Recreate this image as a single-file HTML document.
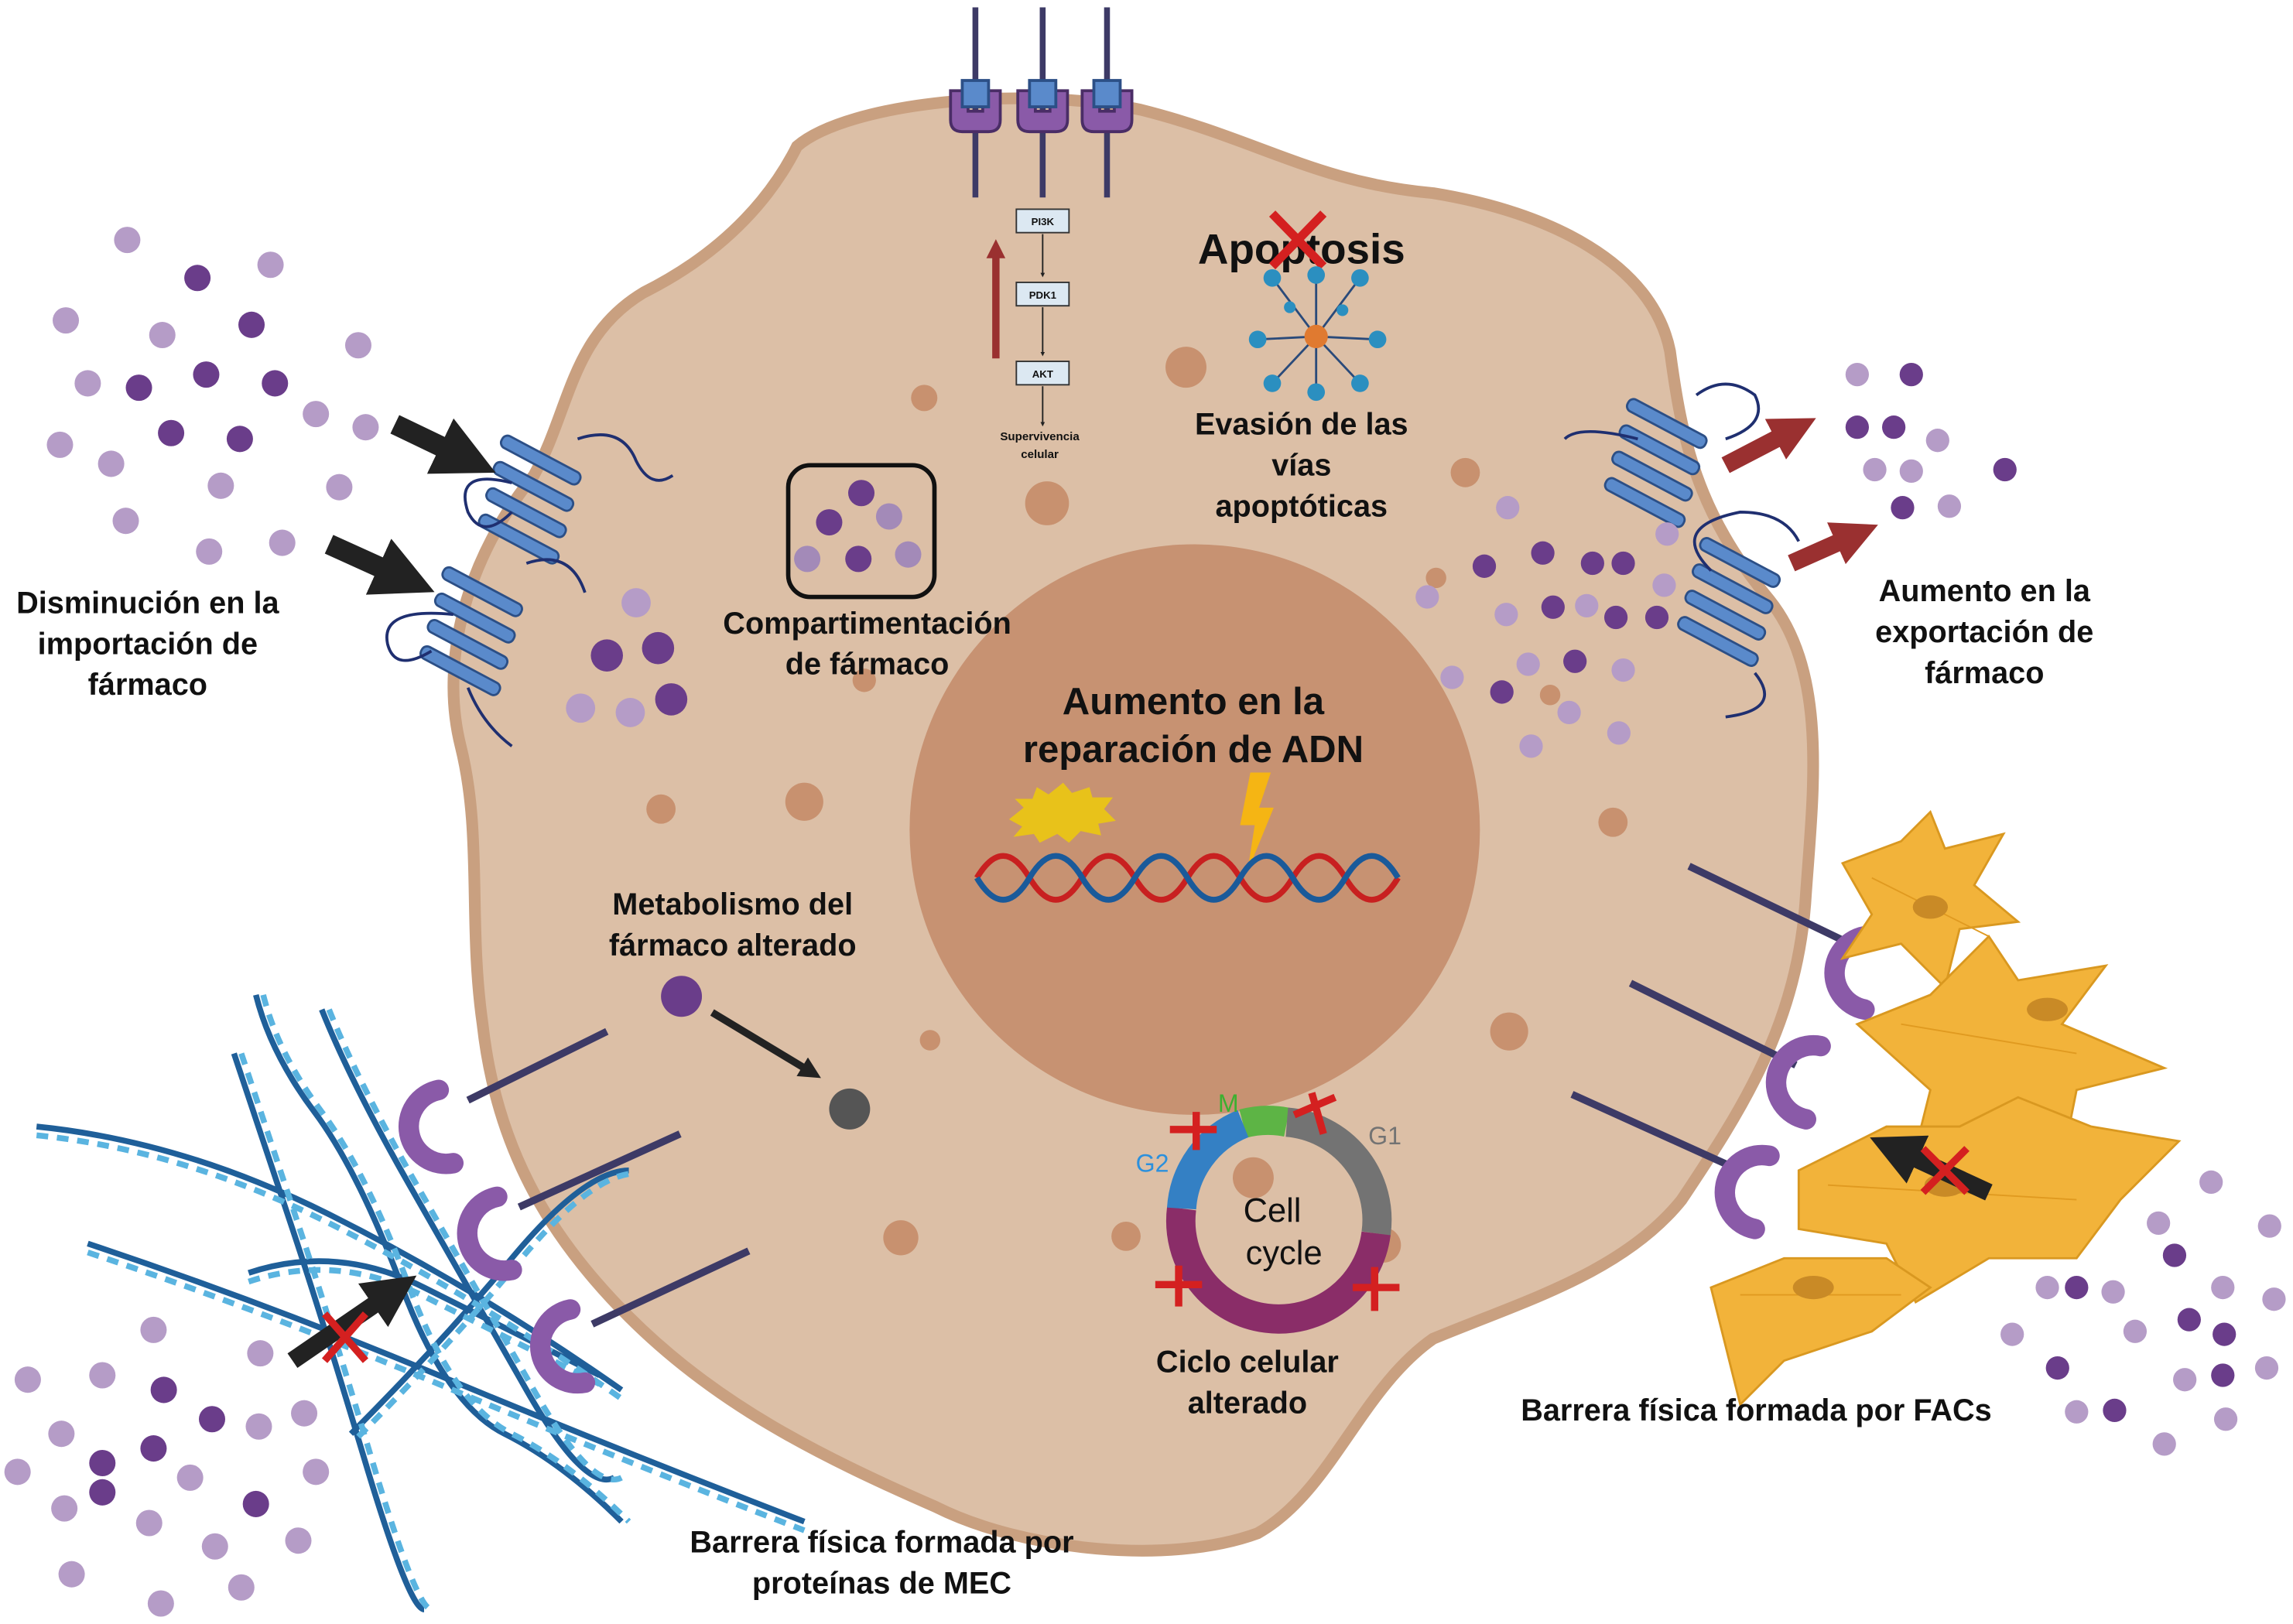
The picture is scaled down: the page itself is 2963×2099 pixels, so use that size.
<!DOCTYPE html>
<html><head><meta charset="utf-8"><style>
html,body{margin:0;padding:0;background:#fff;}
svg{display:block}
text{font-family:"Liberation Sans",sans-serif;font-weight:bold;fill:#111;text-anchor:middle}
</style></head><body>
<svg width="2963" height="2099" viewBox="0 0 1568 1110" preserveAspectRatio="none" xmlns="http://www.w3.org/2000/svg">
<defs>
<marker id="ab" viewBox="0 0 10 10" refX="5" refY="5" markerWidth="3" markerHeight="3" orient="auto"><path d="M0,0L10,5L0,10z" fill="#222"/></marker>
<marker id="ar" viewBox="0 0 10 10" refX="5" refY="5" markerWidth="2.6" markerHeight="2.6" orient="auto"><path d="M0,0L10,5L0,10z" fill="#9a3030"/></marker>
</defs>
<path d="M545,100 C580,70 700,58 780,75 C860,95 900,125 980,132 C1060,145 1130,180 1142,240 C1150,300 1160,350 1210,410 C1250,460 1240,540 1235,610 C1230,700 1190,760 1150,820 C1110,870 1040,890 980,915 C930,950 910,1020 860,1048 C800,1070 700,1060 640,1030 C560,995 490,960 430,900 C380,850 340,790 330,700 C320,630 330,570 315,510 C300,450 320,380 365,325 C390,280 390,230 440,200 C500,170 530,130 545,100 Z" fill="#dcbfa6" stroke="#c9a080" stroke-width="8"/>
<g fill="#c8916f">
<circle cx="811" cy="251" r="14"/><circle cx="716" cy="344" r="15"/><circle cx="632" cy="272" r="9"/><circle cx="1002" cy="323" r="10"/><circle cx="550" cy="548" r="13"/><circle cx="452" cy="553" r="10"/><circle cx="591" cy="465" r="8"/><circle cx="1103" cy="562" r="10"/><circle cx="1032" cy="705" r="13"/><circle cx="636" cy="711" r="7"/><circle cx="616" cy="846" r="12"/><circle cx="770" cy="845" r="10"/><circle cx="857" cy="805" r="14"/><circle cx="946" cy="851" r="12"/><circle cx="982" cy="395" r="7"/><circle cx="1060" cy="475" r="7"/></g>
<circle cx="817" cy="567" r="195" fill="#c79272"/>
<g stroke="#3d3a66" stroke-width="4"><line x1="667" y1="5" x2="667" y2="135"/><line x1="713" y1="5" x2="713" y2="135"/><line x1="757" y1="5" x2="757" y2="135"/></g>
<g fill="#8a5aa8" stroke="#4a2d66" stroke-width="2">
<path d="M650,62 h12 v14 h10 v-14 h12 v20 q0,8 -8,8 h-18 q-8,0 -8,-8z"/>
<path d="M696,62 h12 v14 h10 v-14 h12 v20 q0,8 -8,8 h-18 q-8,0 -8,-8z"/>
<path d="M740,62 h12 v14 h10 v-14 h12 v20 q0,8 -8,8 h-18 q-8,0 -8,-8z"/></g>
<g fill="#5a8acb" stroke="#2c4f86" stroke-width="2"><rect x="658" y="55" width="18" height="18"/><rect x="704" y="55" width="18" height="18"/><rect x="748" y="55" width="18" height="18"/></g>
<line x1="681" y1="245" x2="681" y2="170" stroke="#9a3030" stroke-width="5" marker-end="url(#ar)"/>
<g fill="#dce8f2" stroke="#333" stroke-width="1"><rect x="695" y="143" width="36" height="16"/><rect x="695" y="193" width="36" height="16"/><rect x="695" y="247" width="36" height="16"/></g>
<g style="font-size:7px;font-weight:normal"><text x="713" y="154">PI3K</text><text x="713" y="204">PDK1</text><text x="713" y="258">AKT</text></g>
<g stroke="#222" stroke-width="1"><line x1="713" y1="160" x2="713" y2="188" marker-end="url(#ab)"/><line x1="713" y1="210" x2="713" y2="242" marker-end="url(#ab)"/><line x1="713" y1="264" x2="713" y2="290" marker-end="url(#ab)"/></g>
<text x="711" y="301" style="font-size:8px">Supervivencia</text><text x="711" y="313" style="font-size:8px">celular</text>
<text x="890" y="180" style="font-size:29px">Apoptosis</text>
<g stroke="#d42020" stroke-width="6"><line x1="870" y1="146" x2="905" y2="182"/><line x1="905" y1="146" x2="870" y2="182"/></g>
<g stroke="#2a4a7a" stroke-width="1.5"><line x1="900" y1="230" x2="870" y2="190"/><line x1="900" y1="230" x2="930" y2="190"/><line x1="900" y1="230" x2="860" y2="232"/><line x1="900" y1="230" x2="942" y2="232"/><line x1="900" y1="230" x2="870" y2="262"/><line x1="900" y1="230" x2="930" y2="262"/><line x1="900" y1="230" x2="900" y2="188"/><line x1="900" y1="230" x2="900" y2="268"/></g>
<g fill="#2b8fc0"><circle cx="870" cy="190" r="6"/><circle cx="930" cy="190" r="6"/><circle cx="860" cy="232" r="6"/><circle cx="942" cy="232" r="6"/><circle cx="870" cy="262" r="6"/><circle cx="930" cy="262" r="6"/><circle cx="900" cy="188" r="6"/><circle cx="900" cy="268" r="6"/><circle cx="882" cy="210" r="4"/><circle cx="918" cy="212" r="4"/></g>
<circle cx="900" cy="230" r="8" fill="#e07a30"/>
<text x="890" y="297" style="font-size:21px">Evasión de las</text><text x="890" y="325" style="font-size:21px">vías</text><text x="890" y="353" style="font-size:21px">apoptóticas</text>
<rect x="539" y="318" width="100" height="90" rx="15" fill="none" stroke="#111" stroke-width="3"/>
<g fill="#6a3d8a"><circle cx="589" cy="337" r="9"/><circle cx="567" cy="357" r="9"/><circle cx="587" cy="382" r="9"/></g>
<g fill="#a38ab8"><circle cx="608" cy="353" r="9"/><circle cx="552" cy="382" r="9"/><circle cx="621" cy="379" r="9"/></g>
<text x="593" y="433" style="font-size:21px">Compartimentación</text><text x="593" y="461" style="font-size:21px">de fármaco</text>
<text x="816" y="488" style="font-size:26px">Aumento en la</text><text x="816" y="521" style="font-size:26px">reparación de ADN</text>
<path d="M690,560 l10,-8 l-6,-6 l12,0 l3,-8 l8,5 l10,-8 l6,7 l12,-4 l2,7 l14,0 l-6,8 l8,8 l-12,2 l2,8 l-14,-3 l-8,8 l-8,-6 l-12,6 l-4,-6 l-14,2 l6,-7z" fill="#e8c21a"/>
<path d="M855,528 l14,0 l-8,24 l10,0 l-18,44 l5,-32 l-10,0z" fill="#f5b514"/>
<path d="M668,600 q18,-30 36,0 t36,0 t36,0 t36,0 t36,0 t36,0 t36,0 t36,0" fill="none" stroke="#c82020" stroke-width="4"/>
<path d="M668,600 q18,30 36,0 t36,0 t36,0 t36,0 t36,0 t36,0 t36,0 t36,0" fill="none" stroke="#1a5a9a" stroke-width="4"/>
<g fill="none" stroke-width="20">
<path d="M850,768 A67,67 0 0 1 880,767" stroke="#5db445"/>
<path d="M880,767 A67,67 0 0 1 941,843" stroke="#737373"/>
<path d="M941,843 A67,67 0 1 1 808,826" stroke="#8a2d68"/>
<path d="M808,826 A67,67 0 0 1 850,768" stroke="#3480c4"/></g>
<text x="870" y="835" style="font-size:23px;font-weight:normal">Cell</text><text x="878" y="864" style="font-size:23px;font-weight:normal">cycle</text>
<text x="840" y="760" style="font-size:17px;font-weight:normal;fill:#3cb030">M</text>
<text x="947" y="782" style="font-size:17px;font-weight:normal;fill:#737373">G1</text>
<text x="788" y="801" style="font-size:17px;font-weight:normal;fill:#2b90dd">G2</text>
<g stroke="#d42020" stroke-width="5"><path d="M800,772h32M818,760v26"/><path d="M885,762l28,-12M897,747l8,28"/><path d="M790,878h32M806,865v28"/><path d="M925,880h32M940,866v30"/></g>
<text x="853" y="938" style="font-size:21px">Ciclo celular</text><text x="853" y="966" style="font-size:21px">alterado</text>
<text x="501" y="625" style="font-size:21px">Metabolismo del</text><text x="501" y="653" style="font-size:21px">fármaco alterado</text>
<circle cx="466" cy="681" r="14" fill="#6a3d8a"/>
<line x1="487" y1="692" x2="555" y2="733" stroke="#222" stroke-width="5" marker-end="url(#ab)"/>
<circle cx="581" cy="758" r="14" fill="#555"/>
<g fill="#5a8acb" stroke="#2c4f86" stroke-width="1.5">
<rect x="340" y="310" width="60" height="9" rx="4" transform="rotate(28 370 314)"/><rect x="335" y="328" width="60" height="9" rx="4" transform="rotate(28 365 332)"/><rect x="330" y="346" width="60" height="9" rx="4" transform="rotate(28 360 350)"/><rect x="325" y="364" width="60" height="9" rx="4" transform="rotate(28 355 368)"/>
<rect x="300" y="400" width="60" height="9" rx="4" transform="rotate(28 330 404)"/><rect x="295" y="418" width="60" height="9" rx="4" transform="rotate(28 325 422)"/><rect x="290" y="436" width="60" height="9" rx="4" transform="rotate(28 320 440)"/><rect x="285" y="454" width="60" height="9" rx="4" transform="rotate(28 315 458)"/>
<rect x="1110" y="285" width="60" height="9" rx="4" transform="rotate(28 1140 289)"/><rect x="1105" y="303" width="60" height="9" rx="4" transform="rotate(28 1135 307)"/><rect x="1100" y="321" width="60" height="9" rx="4" transform="rotate(28 1130 325)"/><rect x="1095" y="339" width="60" height="9" rx="4" transform="rotate(28 1125 343)"/>
<rect x="1160" y="380" width="60" height="9" rx="4" transform="rotate(28 1190 384)"/><rect x="1155" y="398" width="60" height="9" rx="4" transform="rotate(28 1185 402)"/><rect x="1150" y="416" width="60" height="9" rx="4" transform="rotate(28 1180 420)"/><rect x="1145" y="434" width="60" height="9" rx="4" transform="rotate(28 1175 438)"/></g>
<g fill="none" stroke="#1f2f70" stroke-width="2"><path d="M350,330 q-40,-10 -30,20 q10,20 30,0"/><path d="M395,300 q30,-10 40,15 q10,20 25,10"/><path d="M310,420 q-50,-5 -45,20 q5,20 30,5"/><path d="M360,385 q30,-10 40,20"/><path d="M320,470 q10,25 30,40"/><path d="M1120,300 q-40,-10 -50,0"/><path d="M1160,270 q20,-15 40,0 q10,20 -20,30"/><path d="M1170,390 q-30,-30 20,-40 q30,0 40,20"/><path d="M1200,460 q20,25 -20,30"/></g>
<g stroke="#222" stroke-width="14"><line x1="270" y1="290" x2="320" y2="314" marker-end="url(#ab)"/><line x1="225" y1="372" x2="278" y2="396" marker-end="url(#ab)"/></g>
<g stroke="#9a3030" stroke-width="12"><line x1="1180" y1="318" x2="1228" y2="293" marker-end="url(#ar)"/><line x1="1225" y1="385" x2="1270" y2="365" marker-end="url(#ar)"/></g>
<g fill="#b59cc7"><circle cx="87" cy="164" r="9"/><circle cx="185" cy="181" r="9"/><circle cx="45" cy="219" r="9"/><circle cx="245" cy="236" r="9"/><circle cx="111" cy="229" r="9"/><circle cx="60" cy="262" r="9"/><circle cx="216" cy="283" r="9"/><circle cx="250" cy="292" r="9"/><circle cx="41" cy="304" r="9"/><circle cx="76" cy="317" r="9"/><circle cx="232" cy="333" r="9"/><circle cx="86" cy="356" r="9"/><circle cx="143" cy="377" r="9"/><circle cx="193" cy="371" r="9"/><circle cx="151" cy="332" r="9"/><circle cx="435" cy="412" r="10"/><circle cx="397" cy="484" r="10"/><circle cx="431" cy="487" r="10"/>
<circle cx="1270" cy="256" r="8"/><circle cx="1325" cy="301" r="8"/><circle cx="1282" cy="321" r="8"/><circle cx="1307" cy="322" r="8"/><circle cx="1333" cy="346" r="8"/><circle cx="1031" cy="347" r="8"/><circle cx="976" cy="408" r="8"/><circle cx="1030" cy="420" r="8"/><circle cx="1085" cy="414" r="8"/><circle cx="1138" cy="400" r="8"/><circle cx="993" cy="463" r="8"/><circle cx="1045" cy="454" r="8"/><circle cx="1110" cy="458" r="8"/><circle cx="1073" cy="487" r="8"/><circle cx="1047" cy="510" r="8"/><circle cx="1107" cy="501" r="8"/><circle cx="1140" cy="365" r="8"/>
<circle cx="105" cy="909" r="9"/><circle cx="178" cy="925" r="9"/><circle cx="19" cy="943" r="9"/><circle cx="70" cy="940" r="9"/><circle cx="208" cy="966" r="9"/><circle cx="42" cy="980" r="9"/><circle cx="177" cy="975" r="9"/><circle cx="12" cy="1006" r="9"/><circle cx="130" cy="1010" r="9"/><circle cx="216" cy="1006" r="9"/><circle cx="44" cy="1031" r="9"/><circle cx="102" cy="1041" r="9"/><circle cx="204" cy="1053" r="9"/><circle cx="49" cy="1076" r="9"/><circle cx="110" cy="1096" r="9"/><circle cx="165" cy="1085" r="9"/><circle cx="147" cy="1057" r="9"/>
<circle cx="1444" cy="802" r="8"/><circle cx="1512" cy="808" r="8"/><circle cx="1476" cy="836" r="8"/><circle cx="1552" cy="838" r="8"/><circle cx="1400" cy="880" r="8"/><circle cx="1445" cy="883" r="8"/><circle cx="1520" cy="880" r="8"/><circle cx="1555" cy="888" r="8"/><circle cx="1376" cy="912" r="8"/><circle cx="1460" cy="910" r="8"/><circle cx="1494" cy="943" r="8"/><circle cx="1550" cy="935" r="8"/><circle cx="1420" cy="965" r="8"/><circle cx="1480" cy="987" r="8"/><circle cx="1522" cy="970" r="8"/></g>
<g fill="#6a3d8a"><circle cx="135" cy="190" r="9"/><circle cx="172" cy="222" r="9"/><circle cx="141" cy="256" r="9"/><circle cx="188" cy="262" r="9"/><circle cx="95" cy="265" r="9"/><circle cx="117" cy="296" r="9"/><circle cx="164" cy="300" r="9"/><circle cx="415" cy="448" r="11"/><circle cx="450" cy="443" r="11"/><circle cx="459" cy="478" r="11"/>
<circle cx="1307" cy="256" r="8"/><circle cx="1270" cy="292" r="8"/><circle cx="1295" cy="292" r="8"/><circle cx="1371" cy="321" r="8"/><circle cx="1301" cy="347" r="8"/><circle cx="1015" cy="387" r="8"/><circle cx="1055" cy="378" r="8"/><circle cx="1089" cy="385" r="8"/><circle cx="1110" cy="385" r="8"/><circle cx="1062" cy="415" r="8"/><circle cx="1105" cy="422" r="8"/><circle cx="1133" cy="422" r="8"/><circle cx="1077" cy="452" r="8"/><circle cx="1027" cy="473" r="8"/>
<circle cx="112" cy="950" r="9"/><circle cx="145" cy="970" r="9"/><circle cx="105" cy="990" r="9"/><circle cx="70" cy="1000" r="9"/><circle cx="175" cy="1028" r="9"/><circle cx="70" cy="1020" r="9"/>
<circle cx="1422" cy="838" r="8"/><circle cx="1487" cy="858" r="8"/><circle cx="1420" cy="880" r="8"/><circle cx="1497" cy="902" r="8"/><circle cx="1521" cy="912" r="8"/><circle cx="1407" cy="935" r="8"/><circle cx="1446" cy="964" r="8"/><circle cx="1520" cy="940" r="8"/></g>
<!-- ECM fibers: twisted two-tone -->
<g fill="none" stroke-width="4">
<g stroke="#1f5f99">
<path d="M175,680 q10,40 40,80 t60,120 t70,100 t80,60"/><path d="M160,720 q20,60 40,120 t50,160 t40,100"/><path d="M220,690 q20,50 60,120 t80,140 t60,60"/><path d="M25,770 q100,10 200,60 t200,120"/><path d="M60,850 q120,40 240,90 t250,100"/><path d="M170,870 q60,-20 120,10 t120,60"/><path d="M240,980 q60,-60 110,-120 t80,-60"/></g>
<g stroke="#5ab4e0" stroke-dasharray="8 6">
<path d="M180,680 q10,40 40,80 t60,120 t70,100 t80,60"/><path d="M165,720 q20,60 40,120 t50,160 t40,100"/><path d="M225,690 q20,50 60,120 t80,140 t60,60"/><path d="M25,776 q100,10 200,60 t200,120"/><path d="M60,856 q120,40 240,90 t250,100"/><path d="M170,876 q60,-20 120,10 t120,60"/><path d="M245,982 q60,-60 110,-120 t80,-60"/></g></g>
<line x1="200" y1="930" x2="270" y2="882" stroke="#222" stroke-width="12" marker-end="url(#ab)"/>
<g stroke="#d42020" stroke-width="5"><line x1="222" y1="898" x2="250" y2="930"/><line x1="250" y1="898" x2="222" y2="930"/></g>
<g stroke="#3d3a66" stroke-width="5"><line x1="415" y1="705" x2="320" y2="752"/><line x1="465" y1="775" x2="355" y2="825"/><line x1="512" y1="855" x2="405" y2="905"/><line x1="1155" y1="592" x2="1265" y2="645"/><line x1="1115" y1="672" x2="1228" y2="728"/><line x1="1075" y1="748" x2="1190" y2="800"/></g>
<g fill="none" stroke="#8a5aa8" stroke-width="14" stroke-linecap="round"><path d="M300,745 a25,25 0 1 0 10,50"/><path d="M340,818 a25,25 0 1 0 10,50"/><path d="M390,895 a25,25 0 1 0 10,50"/><path d="M1285,640 a25,25 0 1 0 -10,50"/><path d="M1245,715 a25,25 0 1 0 -10,50"/><path d="M1210,790 a25,25 0 1 0 -10,50"/></g>
<g fill="#f2b33a" stroke="#d99820" stroke-width="1.5">
<path d="M1260,590 l40,-15 l20,-20 l10,25 l40,-10 l-20,35 l30,25 l-40,5 l-10,40 l-30,-30 l-40,10 l20,-30z"/>
<path d="M1270,700 l50,-20 l40,-40 l20,30 l60,-10 l-30,40 l70,30 l-60,15 l-10,50 l-40,-30 l-60,20 l10,-40z"/>
<path d="M1230,800 l60,-30 l50,0 l40,-20 l50,20 l60,10 l-40,40 l-30,40 l-60,0 l-50,30 l-20,-40 l-60,-10z"/>
<path d="M1170,880 l50,-20 l70,0 l30,20 l-40,30 l-60,20 l-30,30 l-10,-40z"/></g>
<g stroke="#e09a20" stroke-width="1" fill="none"><path d="M1280,600 l80,40 M1300,700 l120,20 M1250,810 l170,10 M1190,885 l110,0"/></g>
<g fill="#c98a26"><ellipse cx="1320" cy="620" rx="12" ry="8"/><ellipse cx="1400" cy="690" rx="14" ry="8"/><ellipse cx="1330" cy="810" rx="14" ry="8"/><ellipse cx="1240" cy="880" rx="14" ry="8"/></g>
<line x1="1360" y1="815" x2="1295" y2="785" stroke="#222" stroke-width="12" marker-end="url(#ab)"/>
<g stroke="#d42020" stroke-width="5"><line x1="1315" y1="785" x2="1345" y2="815"/><line x1="1345" y1="785" x2="1315" y2="815"/></g>
<text x="101" y="419" style="font-size:21px">Disminución en la</text><text x="101" y="447" style="font-size:21px">importación de</text><text x="101" y="475" style="font-size:21px">fármaco</text>
<text x="1357" y="411" style="font-size:21px">Aumento en la</text><text x="1357" y="439" style="font-size:21px">exportación de</text><text x="1357" y="467" style="font-size:21px">fármaco</text>
<text x="1201" y="971" style="font-size:21px">Barrera física formada por FACs</text>
<text x="603" y="1061" style="font-size:21px">Barrera física formada por</text><text x="603" y="1089" style="font-size:21px">proteínas de MEC</text>
</svg>
</body></html>
